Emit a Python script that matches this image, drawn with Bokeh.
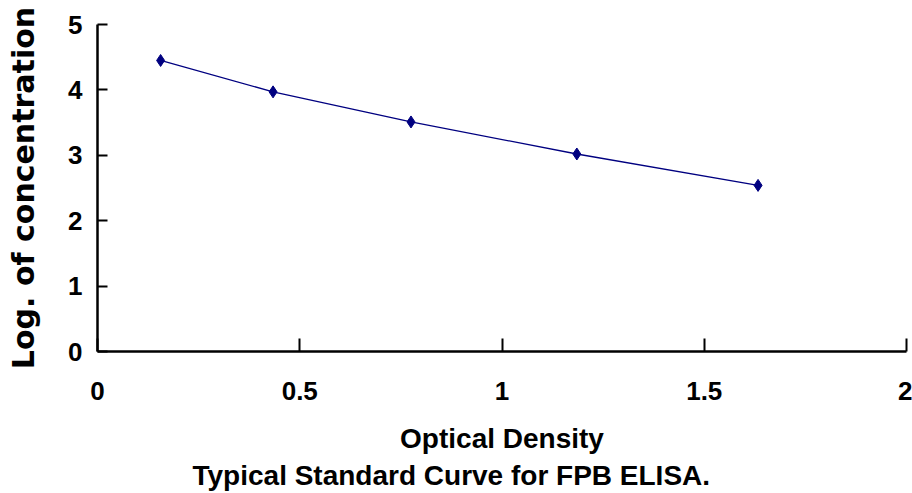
from bokeh.plotting import figure
from bokeh.models import Range1d, FixedTicker
from bokeh.embed import file_html
from bokeh.resources import INLINE

# Data
optical_density = [0.156, 0.434, 0.775, 1.185, 1.633]
log_concentration = [4.45, 3.97, 3.51, 3.02, 2.54]
x_ticks = [0, 0.5, 1, 1.5, 2]
y_ticks = [0, 1, 2, 3, 4, 5]

title_text = "Typical Standard Curve for FPB ELISA."
x_label = "Optical Density"
y_label = "Log. of concentration"

p = figure(width=912, height=493, output_backend="svg", toolbar_location=None,
           x_range=Range1d(0, 2), y_range=Range1d(0, 5),
           min_border_left=97, min_border_right=6, min_border_top=24,
           min_border_bottom=142, title_location="below")

p.background_fill_color = "white"
p.border_fill_color = "white"
p.outline_line_color = None
p.grid.visible = False

p.line(optical_density, log_concentration, line_color="#000080", line_width=1.3)
p.scatter(optical_density, log_concentration, marker="diamond", size=12,
          fill_color="#000080", line_color="#000080")

for ax in (p.xaxis[0], p.yaxis[0]):
    ax.axis_line_color = "black"
    ax.axis_line_width = 2.5
    ax.major_tick_line_color = "black"
    ax.major_tick_line_width = 2
    ax.major_tick_out = 0
    ax.minor_tick_line_color = None
    ax.major_label_text_font = "Liberation Sans"
    ax.major_label_text_font_style = "bold"
    ax.major_label_text_font_size = "26px"
    ax.major_label_text_color = "black"
    ax.axis_label_text_color = "black"
    ax.axis_label_text_font_style = "bold"

p.xaxis[0].ticker = FixedTicker(ticks=x_ticks)
p.yaxis[0].ticker = FixedTicker(ticks=y_ticks)
p.xaxis[0].major_tick_in = 13
p.yaxis[0].major_tick_in = 10
p.xaxis[0].major_label_standoff = 30
p.yaxis[0].major_label_standoff = 15

p.xaxis[0].axis_label = x_label
p.xaxis[0].axis_label_text_font = "Liberation Sans"
p.xaxis[0].axis_label_text_font_size = "28px"
p.xaxis[0].axis_label_standoff = 20

p.yaxis[0].axis_label = y_label
p.yaxis[0].axis_label_text_font = "DejaVu Sans"
p.yaxis[0].axis_label_text_font_size = "30px"
p.yaxis[0].axis_label_standoff = 24

p.title.text = title_text
p.title.text_font = "Liberation Sans"
p.title.text_font_style = "bold"
p.title.text_font_size = "28px"
p.title.text_color = "black"
p.title.align = "left"
p.title.offset = 95
p.title.standoff = 3

open("out.html", "w").write(file_html(p, INLINE))
